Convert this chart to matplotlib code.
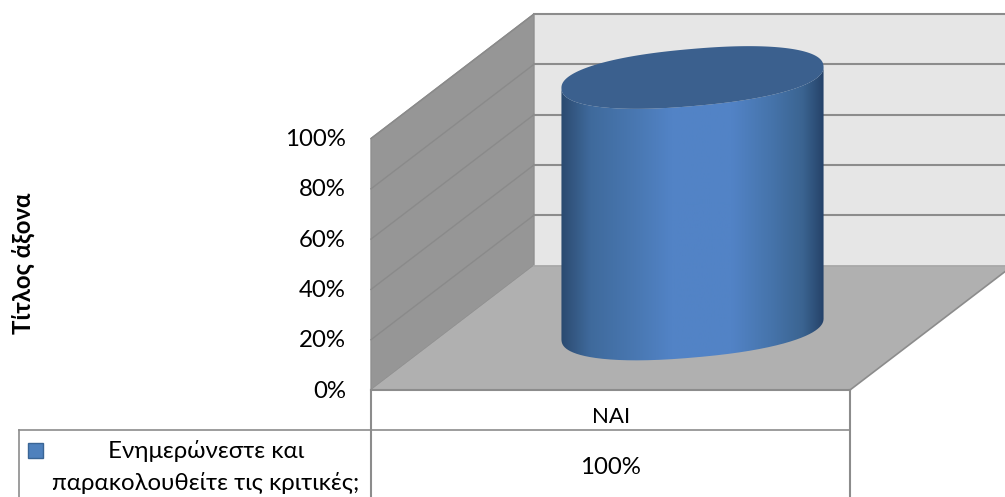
import numpy as np
import matplotlib
matplotlib.use("Agg")
import matplotlib.pyplot as plt
from matplotlib.path import Path
from matplotlib.patches import PathPatch, Polygon, Rectangle
from matplotlib.colors import LinearSegmentedColormap

categories = ["ΝΑΙ"]
values = [100]
series_name = "Ενημερώνεστε και\nπαρακολουθείτε τις κριτικές;"
value_labels = ["100%"]
ticks = [0, 20, 40, 60, 80, 100]
axis_title = "Τίτλος άξονα"

plt.rcParams["font.family"] = ["Lato", "Open Sans", "DejaVu Sans"]

W, H = 1005, 497
fig = plt.figure(figsize=(W / 100, H / 100), dpi=100)
ax = fig.add_axes([0, 0, 1, 1])
ax.set_xlim(0, W)
ax.set_ylim(H, 0)
ax.axis("off")

# fake 3d box, depth offset between front and back planes
x0, x1 = 371, 850
y0 = 390
dx, dy = 163, -124.5
unit = 2.515  # pixels per percent
GRID = "#8c8c8c"
TXT = "#000000"
FS = 17.3
N = 600


def front_y(v):
    return y0 - v * unit


# slightly squared ellipse, the cylinder ends are blunt at the tips
def ellipse(cx, cy, a=131.5, b=28.5, tilt=-5.0, p=2.25, t0=0, t1=2 * np.pi):
    t = np.linspace(t0, t1, N)
    c = np.sign(np.cos(t)) * np.abs(np.cos(t)) ** (2 / p)
    s = np.sign(np.sin(t)) * np.abs(np.sin(t)) ** (2 / p)
    r = np.radians(tilt)
    x = cx + a * c * np.cos(r) - b * s * np.sin(r)
    y = cy + a * c * np.sin(r) + b * s * np.cos(r)
    return np.column_stack([x, y])


# back wall
ax.add_patch(Rectangle((x0 + dx, front_y(100) + dy), W - x0 - dx, 100 * unit,
                       fc="#e6e6e6", ec="none", zorder=1))
# side wall
ax.add_patch(Polygon([(x0, y0), (x0, front_y(100)), (x0 + dx, front_y(100) + dy), (x0 + dx, y0 + dy)],
                     fc="#969696", ec="#8f8f8f", lw=1, zorder=2))
# floor
slope = dy / dx
ax.add_patch(Polygon([(x0, y0), (x1, y0), (W, y0 + (W - x1) * slope), (W, y0 + dy), (x0 + dx, y0 + dy)],
                     fc="#b0b0b0", ec="none", zorder=2))
ax.plot([x1, W], [y0, y0 + (W - x1) * slope], color=GRID, lw=1.2, zorder=3)
ax.plot([x0, x1], [y0, y0], color=GRID, lw=1.5, zorder=3)
ax.plot([x0 + dx, W], [y0 + dy, y0 + dy], color="#a8a8a8", lw=1.2, zorder=3)

# gridlines on both walls
for t in ticks[1:]:
    y = front_y(t)
    ax.plot([x0, x0 + dx], [y, y + dy], color="#8a8a8a", lw=1, zorder=3)
    ax.plot([x0 + dx, W], [y + dy, y + dy], color=GRID, lw=1.5, zorder=3)
for t in ticks:
    ax.text(346, front_y(t) + 1, f"{t}%", ha="right", va="center", fontsize=FS, color=TXT)

# cylinder body with a horizontal gradient
cx = 692.5
base_cy = 329
top_cy = base_cy - values[0] * unit
bottom = ellipse(cx, base_cy)
top = ellipse(cx, top_cy)
left_i = np.argmin(bottom[:, 0])
right_i = np.argmax(bottom[:, 0])
a_left = 2 * np.pi * left_i / (N - 1)
a_right = 2 * np.pi * right_i / (N - 1)
lower = ellipse(cx, base_cy, t0=a_right, t1=a_left)
upper = ellipse(cx, top_cy, t0=a_right, t1=a_left)[::-1]
body = np.vstack([lower, upper, lower[:1]])
body_path = PathPatch(Path(body), fc="none", ec="none", transform=ax.transData)
ax.add_patch(body_path)

cyl = LinearSegmentedColormap.from_list("cyl", [
    (0.00, "#2a4a70"), (0.04, "#335680"), (0.11, "#3f6a9c"), (0.30, "#4a79b4"),
    (0.42, "#5283c6"), (0.65, "#5283c6"), (0.80, "#4674ab"), (0.92, "#3b6491"),
    (0.98, "#2b4b73"), (1.00, "#24426a"),
])
grad = np.linspace(0, 1, 256).reshape(1, -1)
im = ax.imshow(grad, cmap=cyl, aspect="auto", zorder=4,
               extent=(bottom[:, 0].min(), bottom[:, 0].max(), base_cy + 60, top_cy - 60))
im.set_clip_path(body_path)
ax.set_xlim(0, W)
ax.set_ylim(H, 0)

ax.add_patch(Polygon(top, fc="#3b608e", ec="none", zorder=5))

# data table under the plot
TBL = "#8c8c8c"
table_top = 430
ax.plot([x0, x0], [y0, H], color=TBL, lw=1.5, zorder=3)
ax.plot([x1, x1], [y0, H], color=TBL, lw=1.5, zorder=3)
ax.plot([19, x1], [table_top, table_top], color=TBL, lw=1.2, zorder=3)
ax.plot([19, 19], [table_top, H], color=TBL, lw=1.2, zorder=3)

ax.text((x0 + x1) / 2 + 0.5, 417, categories[0], ha="center", va="center", fontsize=16, color=TXT)
ax.text((x0 + x1) / 2, 468, value_labels[0], ha="center", va="center", fontsize=FS, color=TXT)

line1, line2 = series_name.split("\n")
ax.text(206, 451, line1, ha="center", va="center", fontsize=FS, color=TXT)
ax.text(206, 483, line2, ha="center", va="center", fontsize=FS, color=TXT)
ax.add_patch(Rectangle((28, 443), 15, 15, fc="#4f81bd", ec="#3a6595", lw=1, zorder=3))

ax.text(23, 263, axis_title, rotation=90, ha="center", va="center", fontsize=FS,
        fontweight="bold", color=TXT)

fig.savefig("out.png", dpi=100)
